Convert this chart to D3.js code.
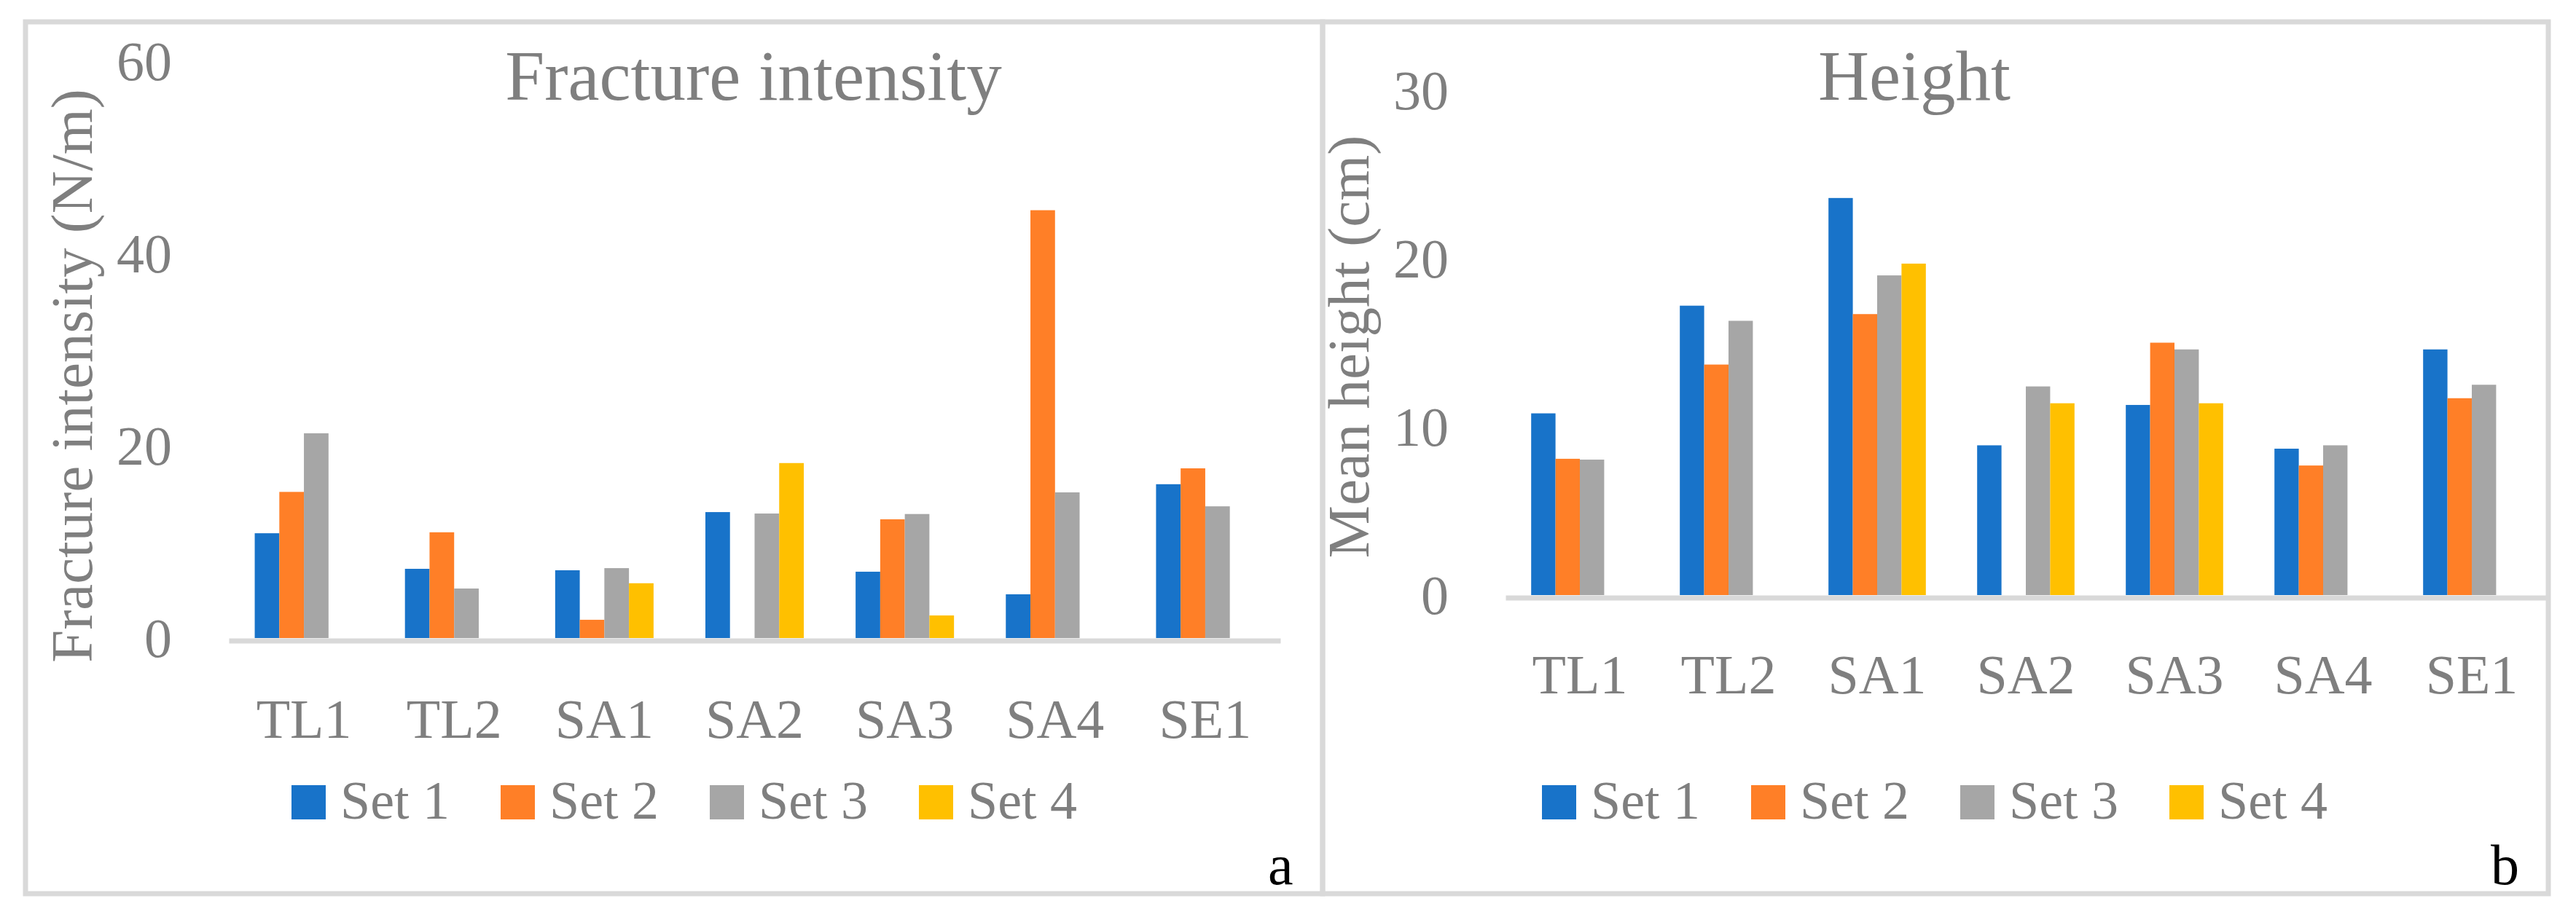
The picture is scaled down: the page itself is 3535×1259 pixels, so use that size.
<!DOCTYPE html>
<html>
<head>
<meta charset="utf-8">
<script src="https://cdn.jsdelivr.net/npm/d3@7"></script>
<style>
  body { margin: 0; background: #fff; }
  text { font-family: "Liberation Serif", "DejaVu Serif", serif; fill: #7f7f7f; }
</style>
</head>
<body>
<div id="chart"></div>
<script>
// categories and series
const categories = ["TL1", "TL2", "SA1", "SA2", "SA3", "SA4", "SE1"];
const seriesNames = ["Set 1", "Set 2", "Set 3", "Set 4"];

// panel a: fracture intensity (N/m)
const fracSet1 = [10.9, 7.2, 7.05, 13.1, 6.9, 4.55, 16.0];
const fracSet2 = [15.2, 11.0, 1.9, null, 12.35, 44.5, 17.65];
const fracSet3 = [21.3, 5.15, 7.27, 12.95, 12.9, 15.15, 13.7];
const fracSet4 = [null, null, 5.7, 18.2, 2.35, null, null];
const fracTicks = [0, 20, 40, 60];

// panel b: mean height (cm)
const heightSet1 = [10.8, 17.2, 23.6, 8.9, 11.3, 8.7, 14.6];
const heightSet2 = [8.1, 13.7, 16.7, null, 15.0, 7.7, 11.7];
const heightSet3 = [8.05, 16.3, 19.0, 12.4, 14.6, 8.9, 12.5];
const heightSet4 = [null, null, 19.7, 11.4, 11.4, null, null];
const heightTicks = [0, 10, 20, 30];

const COLORS = ["#1873c9", "#ff7f27", "#a6a6a6", "#ffc000"];

const W = 3535, H = 1259;

const svg = d3.select("#chart").append("svg")
  .attr("width", W)
  .attr("height", H);

// frames
svg.append("rect").attr("x", 35).attr("y", 30).attr("width", 1780).attr("height", 1197)
  .attr("fill", "none").attr("stroke", "#d9d9d9").attr("stroke-width", 7);
svg.append("rect").attr("x", 1815).attr("y", 30).attr("width", 1682).attr("height", 1197)
  .attr("fill", "none").attr("stroke", "#d9d9d9").attr("stroke-width", 7);

//draws one bar panel
function drawPanel(cfg) {
  const g = svg.append("g");

  const x0 = d3.scaleBand()
    .domain(categories)
    .range([cfg.x0, cfg.x1])
    .paddingInner(0.345)
    .paddingOuter(0.1725);

  const x1 = d3.scaleBand()
    .domain(seriesNames)
    .range([0, x0.bandwidth()]);

  const y = d3.scaleLinear()
    .domain([0, cfg.max])
    .range([cfg.yBase, cfg.yTop]);

  // bars
  const rows = [];
  cfg.series.forEach((vals, s) => {
    vals.forEach((v, i) => {
      if (v !== null) rows.push({ cat: categories[i], set: seriesNames[s], v: v, s: s });
    });
  });

  g.selectAll("rect.bar")
    .data(rows)
    .enter()
    .append("rect")
    .attr("class", "bar")
    .attr("x", d => x0(d.cat) + x1(d.set))
    .attr("width", x1.bandwidth())
    .attr("y", d => y(d.v))
    .attr("height", d => y(0) - y(d.v))
    .attr("fill", d => COLORS[d.s]);

  // x axis
  const xAxis = g.append("g")
    .attr("transform", "translate(0," + (cfg.yBase + 3.5) + ")")
    .call(d3.axisBottom(x0).tickSize(0).tickSizeOuter(0));
  xAxis.select(".domain").attr("stroke", "#d9d9d9").attr("stroke-width", 7);
  xAxis.selectAll("text")
    .attr("y", cfg.labelOffset)
    .attr("dy", 0)
    .style("font-family", "'Liberation Serif', serif")
    .style("font-size", "76px")
    .style("fill", "#7f7f7f");

  // y axis
  const yAxis = g.append("g")
    .attr("transform", "translate(" + cfg.tickX + ",0)")
    .call(d3.axisLeft(y).tickValues(cfg.ticks).tickSize(0).tickPadding(0));
  yAxis.select(".domain").remove();
  yAxis.selectAll("text")
    .attr("dy", "0.33em")
    .style("font-family", "'Liberation Serif', serif")
    .style("font-size", "76px")
    .style("fill", "#7f7f7f");

  // titles
  g.append("text")
    .attr("x", cfg.titleX)
    .attr("y", 137)
    .attr("text-anchor", "middle")
    .style("font-size", "97px")
    .text(cfg.title);

  g.append("text")
    .attr("transform", "translate(" + cfg.yTitleX + "," + cfg.yTitleY + ") rotate(-90)")
    .attr("text-anchor", "middle")
    .style("font-size", "81px")
    .text(cfg.yTitle);

  // legend
  const leg = g.selectAll("g.leg")
    .data(seriesNames)
    .enter()
    .append("g")
    .attr("class", "leg")
    .attr("transform", (d, i) => "translate(" + (cfg.legX + i * 287) + ",1078)");
  leg.append("rect")
    .attr("width", 47)
    .attr("height", 47)
    .attr("fill", (d, i) => COLORS[i]);
  leg.append("text")
    .attr("x", 67)
    .attr("y", 46)
    .style("font-size", "74px")
    .text(d => d);

  // panel letter
  g.append("text")
    .attr("x", cfg.letterX)
    .attr("y", 1214)
    .style("font-size", "78px")
    .style("fill", "#000")
    .text(cfg.letter);
}

drawPanel({
  series: [fracSet1, fracSet2, fracSet3, fracSet4],
  ticks: fracTicks, max: 60,
  x0: 314, x1: 1757, yBase: 876, yTop: 84,
  tickX: 236, labelOffset: 133,
  title: "Fracture intensity", titleX: 1034,
  yTitle: "Fracture intensity (N/m)", yTitleX: 126, yTitleY: 516,
  legX: 400, letter: "a", letterX: 1740
});

drawPanel({
  series: [heightSet1, heightSet2, heightSet3, heightSet4],
  ticks: heightTicks, max: 30,
  x0: 2066, x1: 3494, yBase: 817, yTop: 124,
  tickX: 1988, labelOffset: 131,
  title: "Height", titleX: 2627,
  yTitle: "Mean height (cm)", yTitleX: 1878, yTitleY: 476,
  legX: 2116, letter: "b", letterX: 3418
});
</script>
</body>
</html>
